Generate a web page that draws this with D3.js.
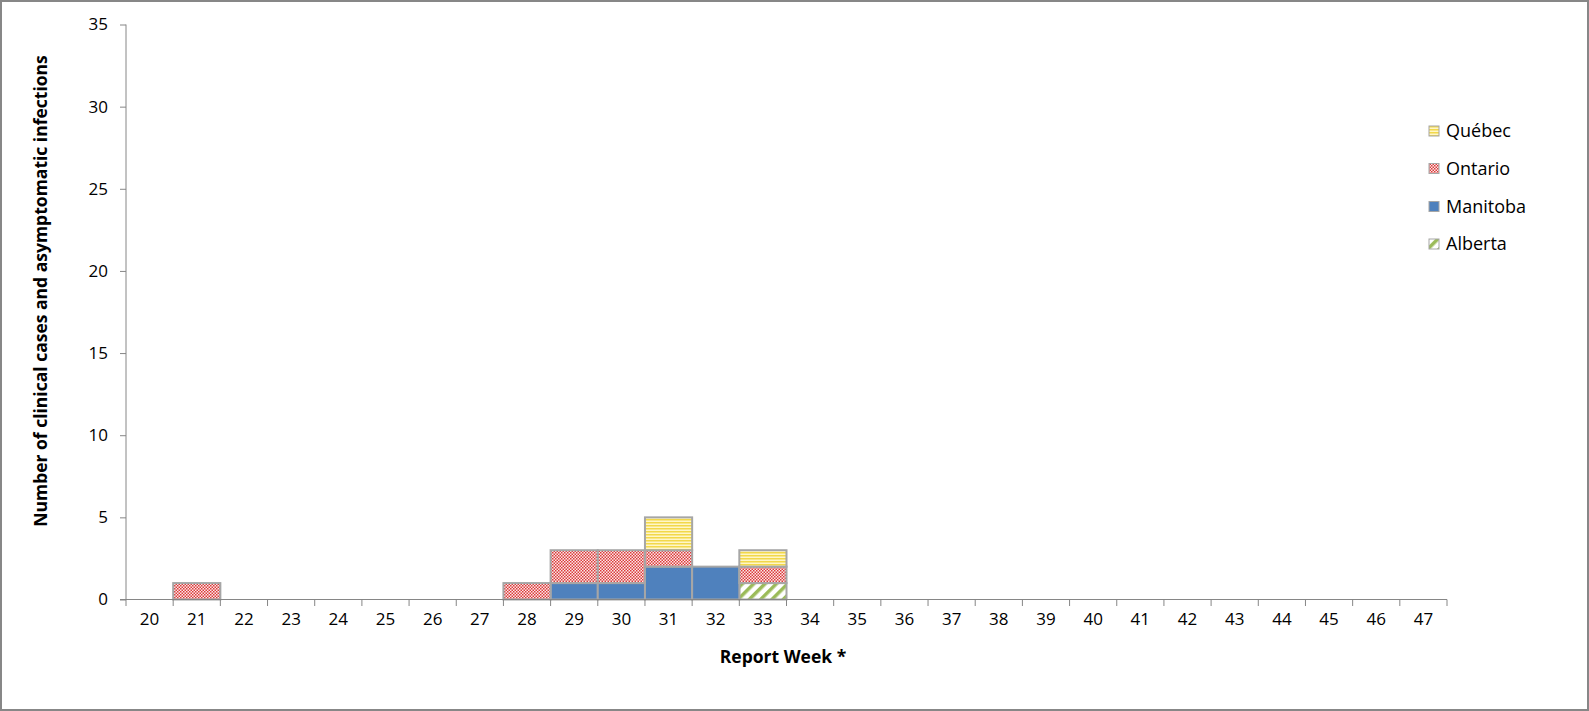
<!DOCTYPE html>
<html><head><meta charset="utf-8">
<script src="https://cdn.jsdelivr.net/npm/d3@7"></script>
<style>html,body{margin:0;padding:0;background:#fff;} svg{display:block;}</style>
</head><body>
<script>
const weeks = ["20","21","22","23","24","25","26","27","28","29","30","31","32","33","34","35","36","37","38","39","40","41","42","43","44","45","46","47"];
const seriesNames = ["Alberta","Manitoba","Ontario","Québec"];
const alberta  = [0,0,0,0,0,0,0,0,0,0,0,0,0,1,0,0,0,0,0,0,0,0,0,0,0,0,0,0];
const manitoba = [0,0,0,0,0,0,0,0,0,1,1,2,2,0,0,0,0,0,0,0,0,0,0,0,0,0,0,0];
const ontario  = [0,1,0,0,0,0,0,0,1,2,2,1,0,1,0,0,0,0,0,0,0,0,0,0,0,0,0,0];
const quebec   = [0,0,0,0,0,0,0,0,0,0,0,2,0,1,0,0,0,0,0,0,0,0,0,0,0,0,0,0];
const yTicks = [0,5,10,15,20,25,30,35];
const legendOrder = ["Québec","Ontario","Manitoba","Alberta"];

const W = 1589, H = 711;
const svg = d3.select("body").append("svg").attr("width", W).attr("height", H);
const font = "'Open Sans', Lato, sans-serif";

const defs = svg.append("defs");
// Québec: horizontal yellow stripes
const pq = defs.append("pattern").attr("id","pQ").attr("patternUnits","userSpaceOnUse").attr("width",4).attr("height",3);
pq.append("rect").attr("width",4).attr("height",3).attr("fill","#fff6c8");
pq.append("rect").attr("width",4).attr("height",1.5).attr("fill","#f2d84a");
// Ontario: red checker
const po = defs.append("pattern").attr("id","pO").attr("patternUnits","userSpaceOnUse").attr("width",3).attr("height",3);
po.append("rect").attr("width",3).attr("height",3).attr("fill","#fbe8e8");
po.append("rect").attr("width",1.5).attr("height",1.5).attr("fill","#dc3a3a");
po.append("rect").attr("x",1.5).attr("y",1.5).attr("width",1.5).attr("height",1.5).attr("fill","#dc3a3a");
// Alberta: green diagonal stripes
const pa = defs.append("pattern").attr("id","pA").attr("patternUnits","userSpaceOnUse").attr("width",8).attr("height",8)
  .attr("patternTransform","rotate(45)");
pa.append("rect").attr("width",8).attr("height",8).attr("fill","#ffffff");
pa.append("rect").attr("width",3.5).attr("height",8).attr("fill","#9bbb59");

const fills = {"Québec":"url(#pQ)","Ontario":"url(#pO)","Manitoba":"#4f81bd","Alberta":"url(#pA)"};
const dataBy = {"Alberta":alberta,"Manitoba":manitoba,"Ontario":ontario,"Québec":quebec};

// frame
svg.append("rect").attr("x",1).attr("y",1).attr("width",W-2).attr("height",H-2)
  .attr("fill","none").attr("stroke","#878787").attr("stroke-width",2);

const x = d3.scaleBand().domain(weeks).range([126,1447]).padding(0);
const y = d3.scaleLinear().domain([0,35]).range([599.5,24.5]);

const rows = weeks.map((w,i)=>{const r={week:w}; seriesNames.forEach(s=>r[s]=dataBy[s][i]); return r;});
const stack = d3.stack().keys(seriesNames)(rows);

const g = svg.append("g");
stack.forEach(layer=>{
  g.selectAll(null).data(layer.filter(d=>d[1]-d[0]>0)).join("rect")
    .attr("x", d=>x(d.data.week)).attr("width", x.bandwidth())
    .attr("y", d=>y(d[1])).attr("height", d=>y(d[0])-y(d[1]))
    .attr("fill", fills[layer.key]).attr("stroke","#a6a6a6").attr("stroke-width",2);
});

// y axis
const yAxis = svg.append("g").attr("transform","translate(126,0)")
  .call(d3.axisLeft(y).tickValues(yTicks).tickSize(6).tickPadding(12).tickFormat(d3.format("d")));
yAxis.select(".domain").attr("stroke","#868686").attr("d","M0,24.5V599.5");
yAxis.selectAll(".tick line").attr("stroke","#868686");
yAxis.selectAll("text").attr("font-family",font).attr("font-size",17).attr("fill","#000");

// x axis
const xAxis = svg.append("g").attr("transform","translate(0,599.5)")
  .call(d3.axisBottom(x).tickSize(0).tickPadding(13));
xAxis.select(".domain").attr("stroke","#868686").attr("d","M120,0H1447");
xAxis.selectAll(".tick line").remove();
xAxis.selectAll("text").attr("font-family",font).attr("font-size",17).attr("fill","#000");
// category boundary ticks
svg.append("g").selectAll("line").data(weeks.concat(["end"])).join("line")
  .attr("x1",(d,i)=>126 + i*x.step()).attr("x2",(d,i)=>126 + i*x.step())
  .attr("y1",599.5).attr("y2",606).attr("stroke","#868686");

// titles
svg.append("text").attr("x",783).attr("y",663).attr("text-anchor","middle")
  .attr("font-family",font).attr("font-weight","bold").attr("font-size",17.5).text("Report Week *");
svg.append("text").attr("transform","translate(47,291) rotate(-90)").attr("text-anchor","middle")
  .attr("font-family",font).attr("font-weight","bold").attr("font-size",17.5)
  .text("Number of clinical cases and asymptomatic infections");

// legend
const lg = svg.append("g");
const ly = [131, 168.5, 206.5, 244];
legendOrder.forEach((s,i)=>{
  lg.append("rect").attr("x",1429).attr("y",ly[i]-5).attr("width",10).attr("height",10)
    .attr("fill",fills[s]).attr("stroke","#a6a6a6").attr("stroke-width",1);
  lg.append("text").attr("x",1446).attr("y",ly[i]+6).attr("font-family",font).attr("font-size",18).text(s);
});
</script>
</body></html>
